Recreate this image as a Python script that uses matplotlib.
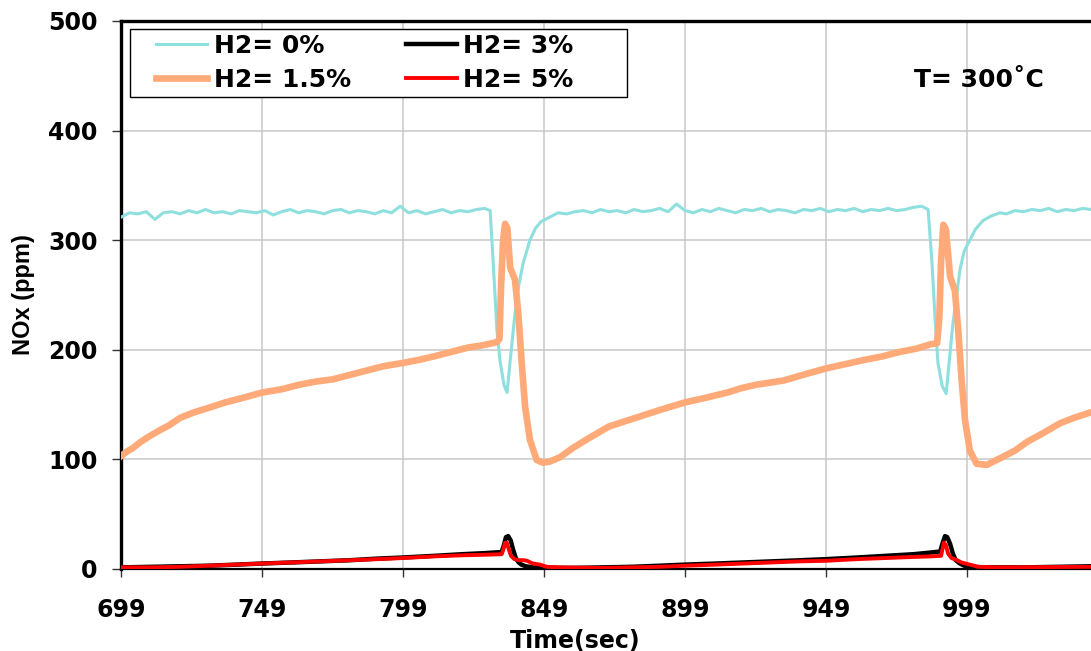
import numpy as np
import matplotlib
matplotlib.use("Agg")
import matplotlib.pyplot as plt
from matplotlib.patches import Rectangle

# ---------------- data ----------------
t_h0 = [699, 702, 705, 708, 711, 714, 717, 720, 723, 726, 729, 732, 735, 738, 741, 744, 747, 750,
        753, 756, 759, 762, 765, 768, 771, 774, 777, 780, 783, 786, 789, 792, 795, 798, 801, 804,
        807, 810, 813, 816, 819, 822, 825, 828,
        829.9, 831, 832.3, 833.4, 834.8, 835.9, 837.2, 838.7, 840, 841.6, 844, 846, 848, 851, 854,
        857, 860, 863, 866, 869, 872, 875, 878, 881, 884, 887, 890, 893, 896, 899, 902, 905, 908,
        911, 914, 917, 920, 923, 926, 929, 932, 935, 938, 941, 944, 947, 950, 953, 956, 959, 962,
        965, 968, 971, 974, 977, 980, 983,
        985.2, 986.6, 987.7, 988.7, 990.2, 991.6, 994, 996.5, 998, 1000, 1002, 1004.7, 1007.5, 1010.7,
        1013, 1016, 1019, 1022, 1025, 1028, 1031, 1034, 1037, 1040, 1043]
v_h0 = [321, 325, 324, 326, 319, 325, 326, 324, 327, 325, 328, 325, 326, 324, 327, 326, 325, 327,
        323, 326, 328, 325, 327, 326, 324, 327, 328, 325, 327, 326, 324, 327, 325, 331, 325, 327,
        324, 326, 328, 325, 327, 326, 328, 329,
        327, 279, 218, 190, 168, 161, 195, 233, 258, 279, 300, 311, 317, 321, 325,
        324, 326, 327, 325, 328, 326, 327, 325, 328, 326, 327, 329, 326, 333, 327, 325, 328, 326,
        329, 327, 325, 328, 327, 329, 326, 328, 327, 325, 328, 327, 329, 326, 328, 327, 329, 326,
        328, 327, 329, 327, 328, 330, 331,
        328, 279, 227, 188, 167, 160, 224, 273, 290, 300, 310, 318, 322, 325,
        324, 327, 326, 328, 327, 329, 326, 328, 327, 329, 328]

t_h15 = [699, 701, 703, 706, 709, 713, 716, 720, 725, 730, 736, 742, 749, 756, 762, 768, 774, 780,
         786, 792, 799, 805, 810, 816, 822, 827, 832.3, 833.2, 833.8, 834.5, 835.2, 836, 837,
         838.7, 839.9, 841.1, 842.3, 844, 846.4, 848.6, 851, 854.7, 859, 864, 868, 872, 878, 884,
         890, 899, 906, 914, 919, 924, 929, 934, 942, 949, 956, 963, 969, 975, 981, 986, 988.4,
         989.2, 989.8, 990.6, 991.5, 993, 994.7, 995.9, 997.1, 998.3, 1000, 1002.4, 1006, 1010.7,
         1016, 1020.3, 1026, 1032, 1037, 1043]
v_h15 = [103, 107, 110, 116, 121, 127, 131, 138, 143, 147, 152, 156, 161, 164, 168, 171, 173, 177,
         181, 185, 188, 191, 194, 198, 202, 204, 207, 210, 260, 300, 315, 311, 275,
         264, 233, 188, 148, 118, 99.5, 97, 98, 102, 110, 118, 124, 130, 135, 140,
         145, 152, 156, 161, 165, 168, 170, 172, 178, 183, 187, 191, 194, 198, 201, 205, 206,
         230, 280, 314, 310, 267, 254, 218, 172, 136, 108, 96, 95, 101,
         108, 116, 124, 133, 138, 143]

t_h3 = [699, 710, 720, 730, 740, 749, 760, 770, 780, 790, 799, 810, 820, 828, 834, 834.8, 835.5,
        836.3, 837.2, 838, 839, 840, 841, 842.5, 845, 850, 860, 870, 880, 890, 899, 910, 920, 930,
        940, 949, 960, 970, 980, 986, 989.5, 990.4, 991.2, 992, 993, 994, 995, 996.5, 998, 1000,
        1005, 1020, 1043]
v_h3 = [1.5, 2, 2.5, 3, 4, 5, 6, 7, 8, 9.5, 10.5, 12, 13.5, 14.5, 15.5, 22, 29,
        30, 26, 18, 10, 6, 4, 2.5, 1.5, 1, 1, 1.5, 2, 3, 4, 5, 6, 7,
        8, 9, 10.5, 12, 13.5, 15, 16, 24, 30, 29, 23, 14, 8, 5, 3, 2,
        1.5, 1.5, 2.5]

t_h5 = [699, 710, 720, 730, 740, 749, 760, 770, 780, 790, 799, 810, 820, 828, 834, 834.6, 835.2,
        835.8, 836.5, 837.3, 838.5, 840, 842, 843, 845, 847.6, 850, 855, 870, 880, 890, 899, 910,
        920, 930, 940, 949, 960, 970, 980, 986, 989.8, 990.3, 990.8, 991.5, 992.3, 993.5, 995.5,
        997, 1000, 1003, 1010, 1043]
v_h5 = [1.5, 1.5, 2, 3, 4, 5, 6, 7, 8, 9, 10, 11.5, 12.5, 13, 13.5, 18, 24,
        24, 18, 12, 9, 8, 8, 7.5, 5, 4, 2, 1.5, 1, 1.5, 2, 3, 4,
        5, 6, 7, 7.5, 9, 10, 11, 11.5, 12, 18, 24, 22, 14, 10, 8,
        6, 4, 2, 1.5, 2]

series_labels = ["H2= 0%", "H2= 1.5%", "H2= 3%", "H2= 5%"]
x_ticks = [699, 749, 799, 849, 899, 949, 999]
y_ticks = [0, 100, 200, 300, 400, 500]

# ---------------- figure ----------------
W, H = 1091, 651
fig = plt.figure(figsize=(W / 100, H / 100), dpi=100)
ax_l, ax_r, ax_t, ax_b = 121, 1096, 21, 569
ax = fig.add_axes([ax_l / W, 1 - ax_b / H, (ax_r - ax_l) / W, (ax_b - ax_t) / H])

px_per_sec = 141 / 50.0
ax.set_xlim(699, 699 + (ax_r - ax_l) / px_per_sec)
ax.set_ylim(0, 500)

c_cyan = "#8EDFDD"
c_orange = "#FFAA78"
c_black = "#000000"
c_red = "#FF0000"

l0, = ax.plot(t_h0, v_h0, color=c_cyan, lw=2.2, zorder=3, solid_joinstyle="round")
l1, = ax.plot(t_h15, v_h15, color=c_orange, lw=4.8, zorder=4, solid_joinstyle="round")
l2, = ax.plot(t_h3, v_h3, color=c_black, lw=3.2, zorder=5, solid_joinstyle="round")
l3, = ax.plot(t_h5, v_h5, color=c_red, lw=2.8, zorder=6, solid_joinstyle="round")

ax.set_xticks(x_ticks)
ax.set_yticks(y_ticks)
ax.grid(True, color="#C8C8C8", lw=1.1, zorder=0)
ax.set_axisbelow(True)

font_h = dict(family="DejaVu Sans", weight="bold")
for lab in ax.get_xticklabels() + ax.get_yticklabels():
    lab.set_fontfamily("DejaVu Sans")
    lab.set_fontweight("bold")
    lab.set_fontsize(17)
ax.tick_params(axis="y", direction="out", length=6.5, width=1.0, color="#333333", pad=10.5)
ax.tick_params(axis="x", direction="out", length=6, width=1.0, color="#333333", pad=15)

for s in ["left", "top"]:
    ax.spines[s].set_linewidth(2.4)
    ax.spines[s].set_color("black")
ax.spines["bottom"].set_linewidth(1.6)
ax.spines["bottom"].set_color("black")
ax.spines["right"].set_visible(False)

ax.set_xlabel("Time(sec)", fontsize=17, **font_h)
ax.xaxis.set_label_coords((575 - ax_l) / (ax_r - ax_l), (ax_b - 629) / (ax_b - ax_t))
ax.set_ylabel("NOx (ppm)", fontsize=17, family="Liberation Sans", weight="bold")
ax.yaxis.set_label_coords((35 - ax_l) / (ax_r - ax_l), 0.5)

# annotation
fig.text(979 / W, 1 - 80 / H, "T= 300˚C", ha="center", va="center", fontsize=18,
         family=["DejaVu Sans"], weight="bold")

# legend frame (drawn in figure pixel space)
frame = Rectangle((130 / W, 1 - 97 / H), (627 - 130) / W, (97 - 29) / H,
                  transform=fig.transFigure, fill=True, facecolor="white",
                  edgecolor="black", lw=1.0, zorder=10)
fig.add_artist(frame)
leg = fig.legend([l0, l1, l2, l3], series_labels, ncol=2, loc="upper left",
                 bbox_to_anchor=(156 / W, 1 - 34 / H), frameon=False,
                 borderpad=0, borderaxespad=0, handlelength=2.05, handletextpad=0.25,
                 columnspacing=2.2, labelspacing=0.4,
                 prop=dict(family="DejaVu Sans", weight="bold", size=18))
leg.set_zorder(11)

fig.savefig("out.png", dpi=100)
